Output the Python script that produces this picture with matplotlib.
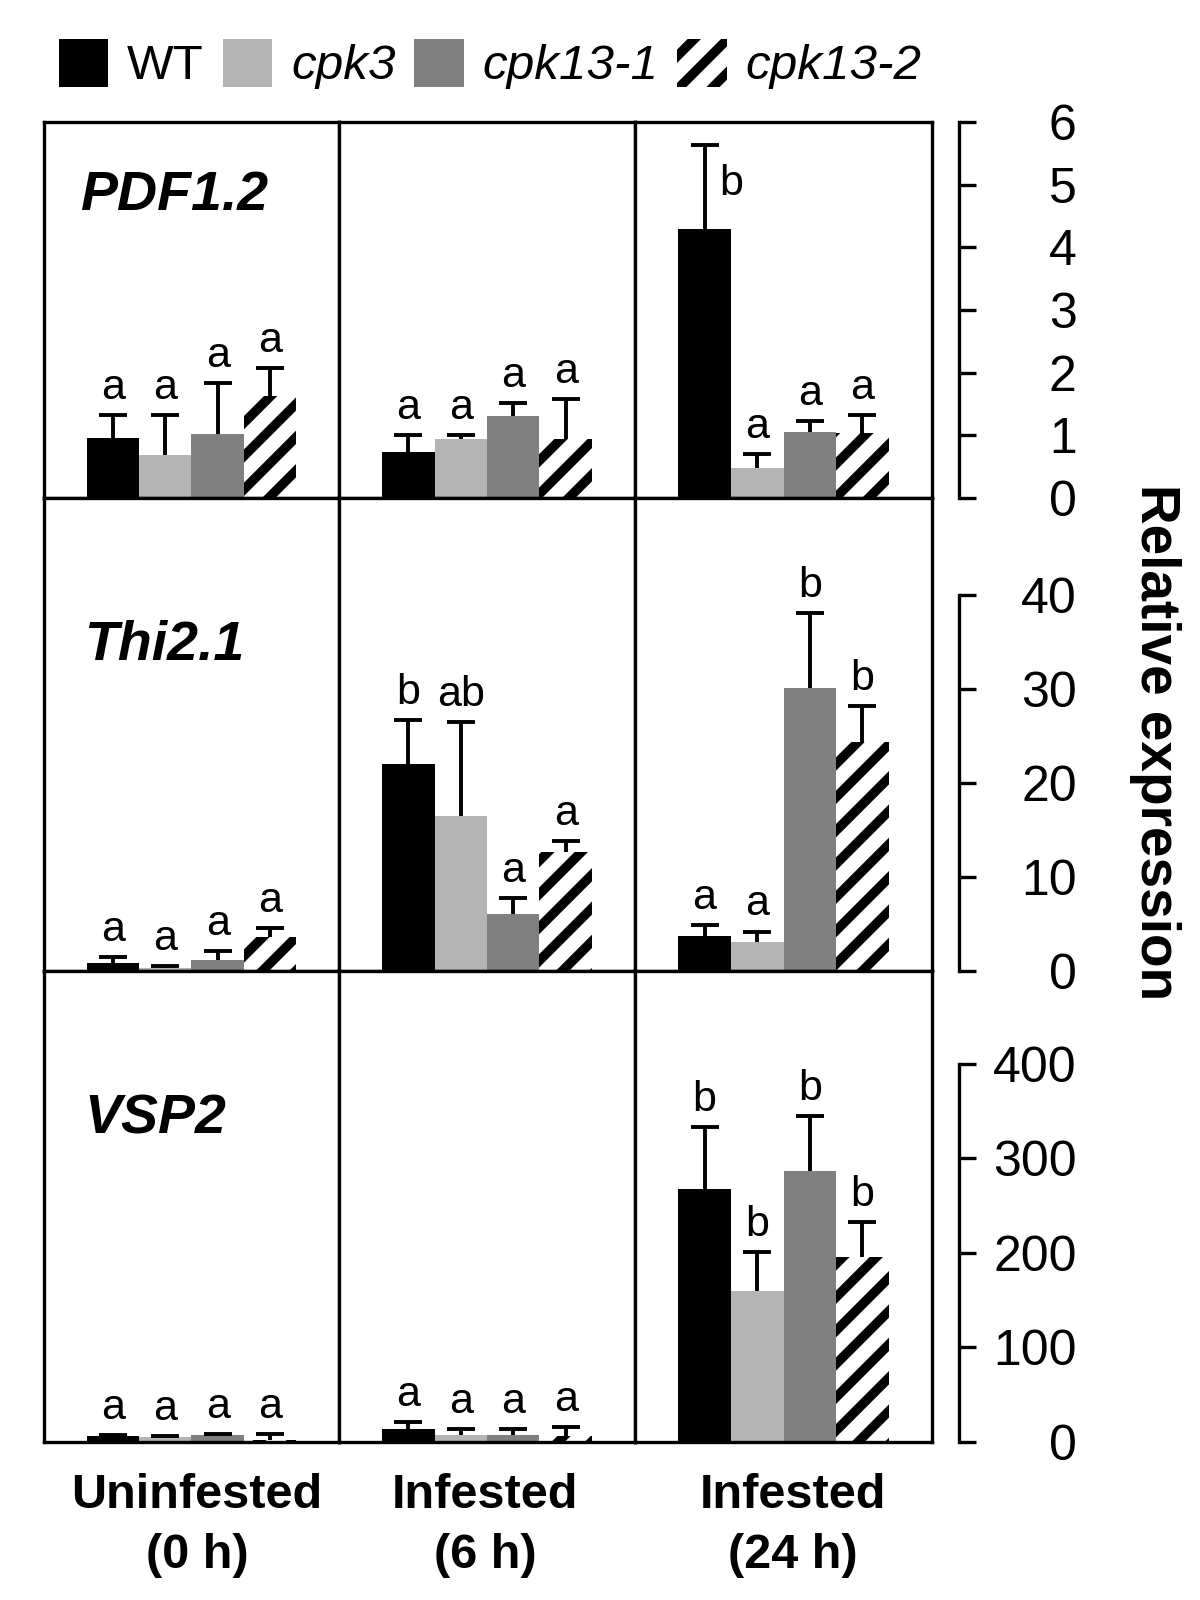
import matplotlib
matplotlib.use('Agg')
import matplotlib.pyplot as plt
from matplotlib.patches import Patch
import numpy as np

plt.rcParams['font.family'] = ['Liberation Sans', 'DejaVu Sans']
plt.rcParams['hatch.linewidth'] = 3.4

# ---------------- data ----------------
genotypes = ['WT', 'cpk3', 'cpk13-1', 'cpk13-2']
cond_line1 = ['Uninfested', 'Infested', 'Infested']
cond_line2 = ['(0 h)', '(6 h)', '(24 h)']
genes = ['PDF1.2', 'Thi2.1', 'VSP2']

# PDF1.2 : per condition, values for WT, cpk3, cpk13-1, cpk13-2
pdf_mean = [[0.95, 0.69, 1.02, 1.63],
            [0.74, 0.94, 1.31, 0.94],
            [4.29, 0.48, 1.05, 1.03]]
pdf_err = [[0.37, 0.63, 0.81, 0.45],
           [0.26, 0.06, 0.20, 0.64],
           [1.34, 0.22, 0.18, 0.29]]
pdf_let = [['a', 'a', 'a', 'a'],
           ['a', 'a', 'a', 'a'],
           ['b', 'a', 'a', 'a']]

# Thi2.1
thi_mean = [[0.9, 0.3, 1.15, 3.6],
            [22.0, 16.5, 6.1, 12.7],
            [3.76, 3.05, 30.1, 24.3]]
thi_err = [[0.55, 0.2, 1.0, 1.0],
           [4.7, 10.0, 1.7, 1.1],
           [1.14, 1.15, 7.95, 3.9]]
thi_let = [['a', 'a', 'a', 'a'],
           ['b', 'ab', 'a', 'a'],
           ['a', 'a', 'b', 'b']]

# VSP2
vsp_mean = [[6, 5, 7, 2],
            [13.7, 7, 7, 6],
            [267.7, 160, 286.8, 196]]
vsp_err = [[1, 1, 1, 6],
           [7.8, 6.5, 6.5, 9.5],
           [65, 41, 58, 37]]
vsp_let = [['a', 'a', 'a', 'a'],
           ['a', 'a', 'a', 'a'],
           ['b', 'b', 'b', 'b']]

row_means = [pdf_mean, thi_mean, vsp_mean]
row_errs = [pdf_err, thi_err, vsp_err]
row_lets = [pdf_let, thi_let, vsp_let]
row_ymax = [6, 50.3, 498]
row_ticks = [[0, 1, 2, 3, 4, 5, 6], [0, 10, 20, 30, 40], [0, 100, 200, 300, 400]]

# ---------------- style ----------------
colors = ['#000000', '#b4b4b4', '#808080', '#ffffff']
hatches = [None, None, None, '//']

W, H = 1200, 1600
fig = plt.figure(figsize=(6, 8), dpi=200)

col_edges = [44, 339, 635, 932]
row_edges = [122, 498, 971, 1442]
SPW = 1.2

x = np.arange(4)
for r in range(3):
    for c in range(3):
        x0, x1 = col_edges[c], col_edges[c + 1]
        y0, y1 = row_edges[r], row_edges[r + 1]
        ax = fig.add_axes([x0 / W, 1 - y1 / H, (x1 - x0) / W, (y1 - y0) / H])
        means = np.array(row_means[r][c], dtype=float)
        errs = np.array(row_errs[r][c], dtype=float)
        for i in range(4):
            ax.bar(x[i], means[i], width=1.0, color=colors[i],
                   edgecolor='black' if hatches[i] else colors[i],
                   hatch=hatches[i], linewidth=0, zorder=2)
        eb = ax.errorbar(x, means, yerr=[np.zeros(4), errs], fmt='none',
                         ecolor='black', elinewidth=1.4, capsize=4.9,
                         capthick=1.4, zorder=3)
        eb[1][0].set_visible(False)
        ymax = row_ymax[r]
        for i in range(4):
            top = means[i] + errs[i]
            if top > 0.85 * ymax:
                ax.annotate(row_lets[r][c][i], xy=(x[i], top), xytext=(5.4, -18),
                            textcoords='offset points', ha='left', va='baseline',
                            fontsize=15.5)
            else:
                ax.annotate(row_lets[r][c][i], xy=(x[i], top), xytext=(0, 5.8),
                            textcoords='offset points', ha='center', va='baseline',
                            fontsize=15.5)
        ax.set_xlim(-1.32, 4.32)
        ax.set_ylim(0, ymax)
        ax.set_xticks([])
        ax.set_yticks([])
        for s in ax.spines.values():
            s.set_linewidth(SPW)
        if c == 2:
            ax2 = ax.twinx()
            ax2.set_ylim(0, ymax)
            for k in ['top', 'left', 'bottom']:
                ax2.spines[k].set_visible(False)
            ax2.spines['right'].set_position(('outward', 9.7))
            ax2.spines['right'].set_bounds(0, row_ticks[r][-1])
            ax2.spines['right'].set_linewidth(SPW)
            ax2.set_yticks(row_ticks[r])
            ax2.set_yticklabels([str(t) for t in row_ticks[r]])
            ax2.tick_params(axis='y', direction='out', length=6.1, width=SPW,
                            labelsize=18, pad=36.3)
            for lab in ax2.get_yticklabels():
                lab.set_horizontalalignment('right')

# gene labels
gene_pos = [(80, 196), (84, 646), (84, 1120)]
for g, (gx, gy) in zip(genes, gene_pos):
    fig.text(gx / W, 1 - gy / H, g, fontsize=20, fontweight='bold',
             fontstyle='italic', ha='left', va='center')

# condition labels
cond_x = [197, 485, 793]
for c in range(3):
    cx = cond_x[c] / W
    fig.text(cx, 1 - 1508 / H, cond_line1[c], fontsize=17.5, fontweight='bold',
             ha='center', va='baseline')
    fig.text(cx, 1 - 1568 / H, cond_line2[c], fontsize=17.5, fontweight='bold',
             ha='center', va='baseline')

# y label
fig.text(1155 / W, 1 - 742 / H, 'Relative expression', rotation=-90,
         fontsize=19.8, fontweight='bold', ha='center', va='center')

# legend
handles = [Patch(facecolor=colors[i], edgecolor='black' if hatches[i] else colors[i],
                 hatch=hatches[i], linewidth=0) for i in range(4)]
leg = fig.legend(handles, genotypes, loc='center left',
                 bbox_to_anchor=(59 / W, 1 - 64 / H), ncol=4, frameon=False,
                 fontsize=17.8, handlelength=1.0, handleheight=1.13,
                 handletextpad=0.38, columnspacing=0.38, borderpad=0,
                 borderaxespad=0)
for t in leg.get_texts()[1:]:
    t.set_fontstyle('italic')

fig.savefig('out.png', dpi=200)
